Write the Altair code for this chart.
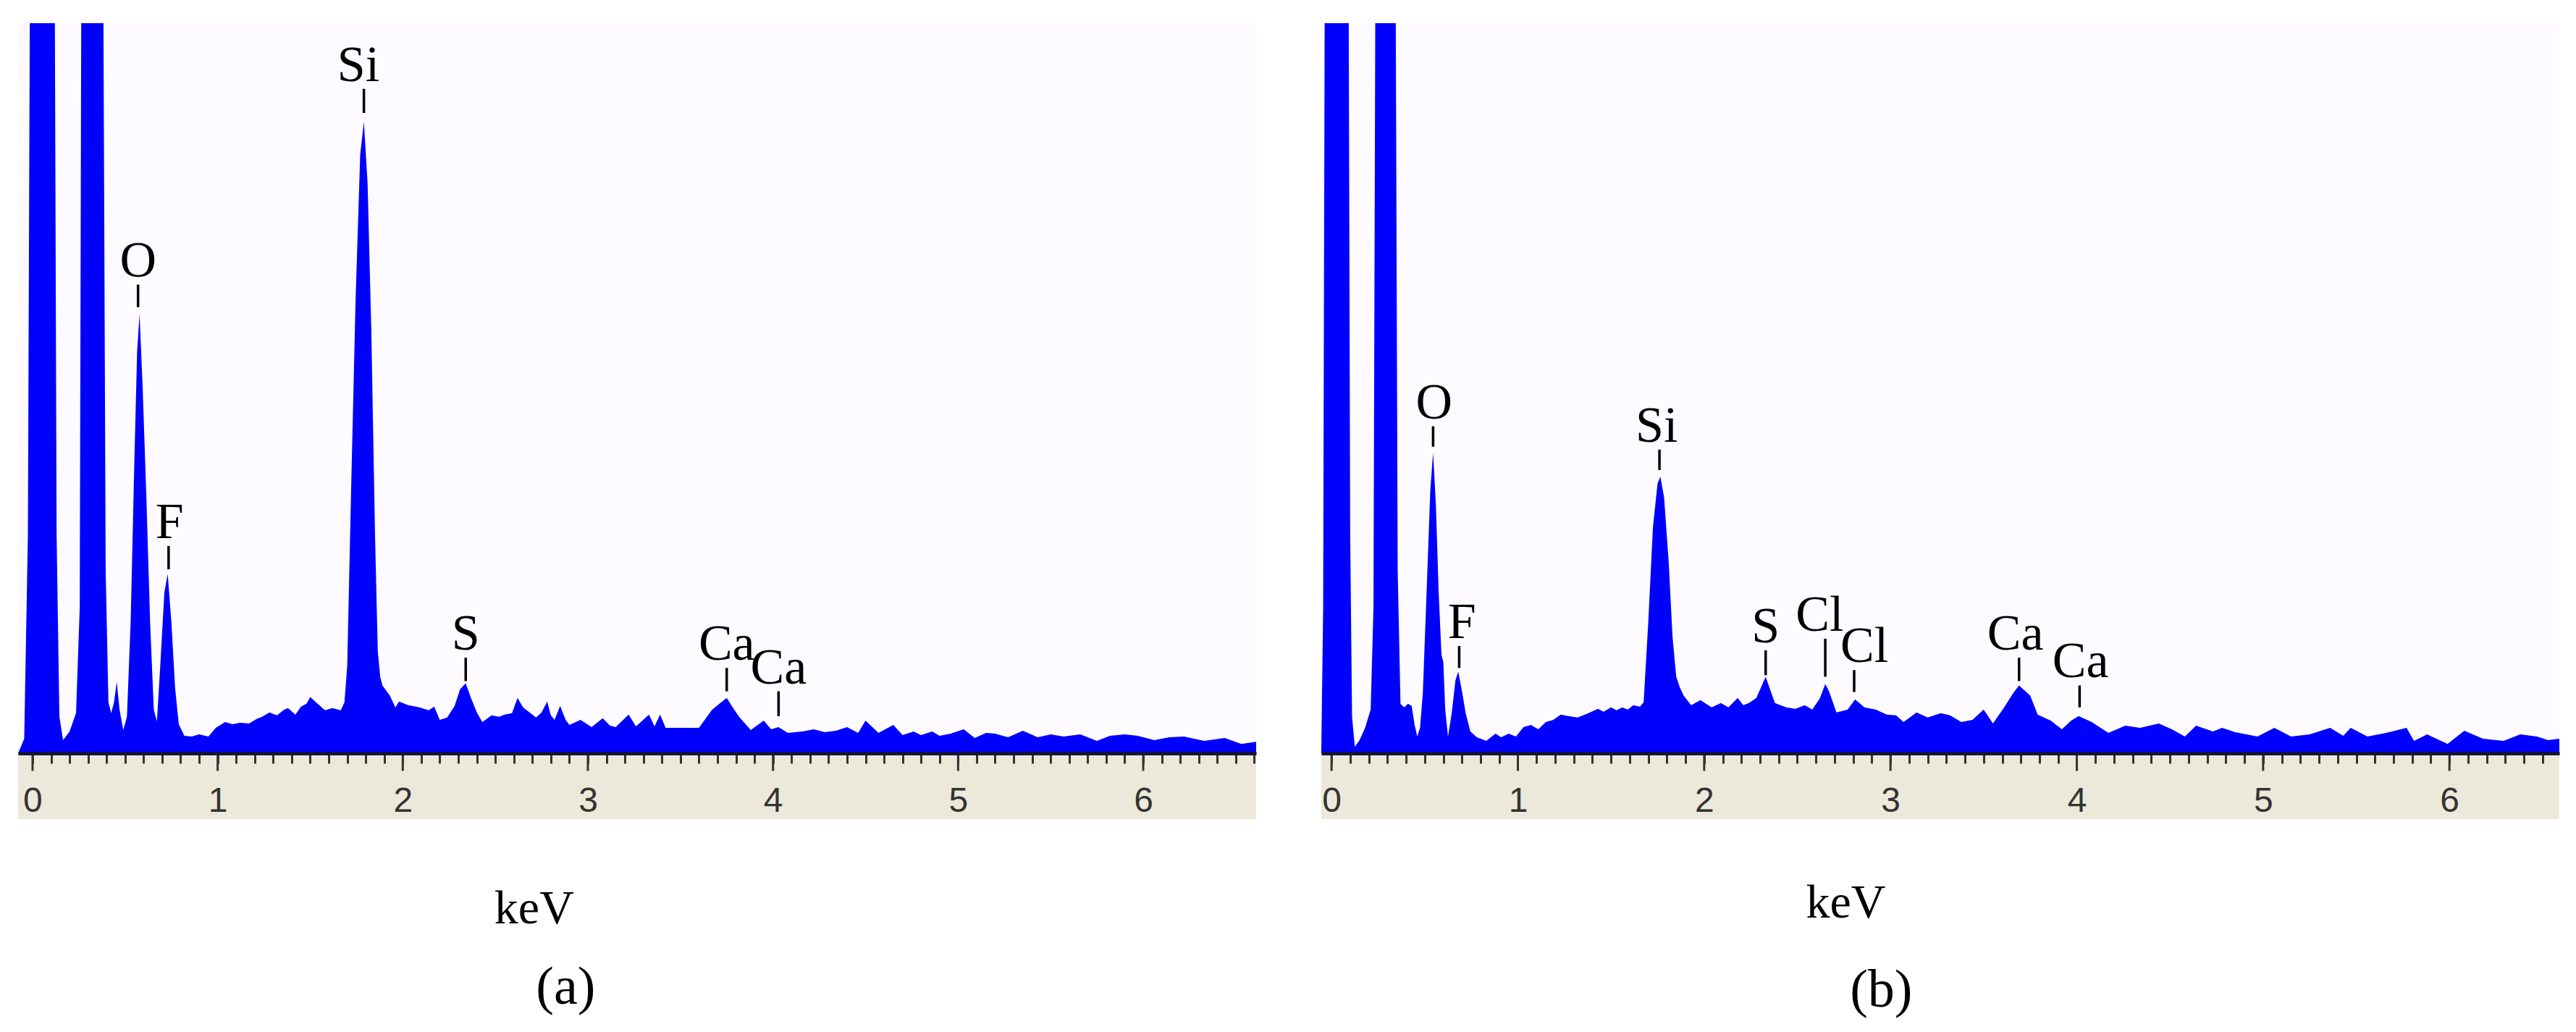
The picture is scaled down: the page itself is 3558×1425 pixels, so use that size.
import altair as alt
import pandas as pd

# ---------------- data ----------------
# Panel (a): energy (keV) and counts (relative units, 100 = top of plot)
kev_a = [-0.078, -0.045, -0.025, -0.012, 0.05, 0.118, 0.13, 0.145, 0.165, 0.20,
         0.235, 0.255, 0.265, 0.33, 0.38, 0.395, 0.41, 0.425, 0.44, 0.455,
         0.47, 0.49, 0.51, 0.53, 0.55, 0.565, 0.578, 0.595, 0.615, 0.635,
         0.655, 0.672, 0.69, 0.712, 0.73, 0.75, 0.77, 0.79, 0.82, 0.86,
         0.90, 0.95, 0.99, 1.04, 1.08, 1.12, 1.17, 1.21, 1.24, 1.28,
         1.32, 1.36, 1.38, 1.42, 1.45, 1.48, 1.50, 1.54, 1.58, 1.62,
         1.665, 1.685, 1.70, 1.72, 1.745, 1.77, 1.79, 1.81, 1.83, 1.85,
         1.865, 1.878, 1.89, 1.93, 1.96, 1.98, 2.03, 2.09, 2.14, 2.17,
         2.20, 2.24, 2.28, 2.31, 2.34, 2.37, 2.40, 2.43, 2.48, 2.52,
         2.55, 2.59, 2.62, 2.65, 2.67, 2.72, 2.75, 2.78, 2.80, 2.82,
         2.85, 2.88, 2.90, 2.96, 3.02, 3.08, 3.12, 3.15, 3.22, 3.26,
         3.33, 3.36, 3.39, 3.42, 3.50, 3.60, 3.67, 3.72, 3.75, 3.79,
         3.82, 3.88, 3.95, 3.99, 4.03, 4.08, 4.16, 4.22, 4.28, 4.34,
         4.40, 4.46, 4.50, 4.57, 4.65, 4.70, 4.76, 4.80, 4.86, 4.90,
         4.96, 5.03, 5.09, 5.15, 5.20, 5.27, 5.35, 5.43, 5.50, 5.57,
         5.66, 5.75, 5.82, 5.90, 5.97, 6.06, 6.14, 6.22, 6.33, 6.44,
         6.53, 6.61]
cts_a = [0, 2, 30, 120, 150, 120, 30, 5, 1.8, 3,
         5.5, 20, 120, 150, 120, 25, 7, 5.5, 7, 9.8,
         6, 3.2, 5, 18, 40, 55, 60.2, 50, 35, 18,
         6, 4.4, 12, 22, 24.6, 18, 9, 4, 2.4, 2.3,
         2.6, 2.3, 3.5, 4.3, 4.0, 4.2, 4.1, 4.7, 5.0, 5.6,
         5.2, 6.0, 6.2, 5.3, 6.4, 6.8, 7.7, 6.8, 5.9, 6.2,
         5.9, 7.0, 12, 35, 62, 82, 86.5, 78, 58, 30,
         14, 10.5, 9.3, 7.9, 6.3, 7.1, 6.6, 6.3, 5.9, 6.4,
         4.6, 4.9, 6.5, 8.8, 9.6, 7.5, 5.6, 4.3, 5.2, 5.0,
         5.3, 5.5, 7.6, 6.3, 5.9, 4.9, 5.6, 7.1, 5.2, 4.6,
         6.5, 4.6, 3.9, 4.6, 3.6, 4.8, 3.8, 3.6, 5.3, 3.7,
         5.3, 3.7, 5.3, 3.5, 3.5, 3.5, 5.95, 7.0, 7.6, 6.0,
         4.9, 3.2, 4.5, 3.3, 3.6, 2.8, 3.0, 3.3, 2.9, 3.1,
         3.6, 2.8, 4.5, 2.8, 3.9, 2.5, 3.0, 2.5, 3.0, 2.4,
         2.7, 3.3, 2.1, 2.8, 2.7, 2.2, 3.1, 2.2, 2.6, 2.3,
         2.6, 1.7, 2.4, 2.6, 2.4, 1.8, 2.2, 2.3, 1.7, 2.1,
         1.3, 1.6]

# Panel (b)
kev_b = [-0.055, -0.045, -0.035, 0.03, 0.09, 0.10, 0.11, 0.125, 0.15, 0.18,
         0.21, 0.225, 0.237, 0.29, 0.342, 0.355, 0.37, 0.39, 0.41, 0.43,
         0.445, 0.46, 0.475, 0.49, 0.51, 0.53, 0.545, 0.56, 0.575, 0.59,
         0.60, 0.61, 0.625, 0.645, 0.665, 0.68, 0.70, 0.72, 0.745, 0.78,
         0.83, 0.88, 0.91, 0.95, 0.99, 1.03, 1.07, 1.11, 1.15, 1.19,
         1.23, 1.27, 1.32, 1.37, 1.43, 1.46, 1.50, 1.53, 1.56, 1.59,
         1.62, 1.655, 1.675, 1.70, 1.725, 1.75, 1.765, 1.785, 1.81, 1.83,
         1.85, 1.87, 1.89, 1.93, 1.98, 2.04, 2.09, 2.13, 2.18, 2.21,
         2.24, 2.28, 2.33, 2.36, 2.38, 2.44, 2.49, 2.54, 2.58, 2.62,
         2.65, 2.67, 2.71, 2.77, 2.81, 2.86, 2.92, 2.98, 3.03, 3.07,
         3.14, 3.20, 3.27, 3.32, 3.38, 3.44, 3.50, 3.55, 3.61, 3.66,
         3.69, 3.75, 3.79, 3.86, 3.92, 3.97, 4.01, 4.08, 4.17, 4.26,
         4.34, 4.44, 4.51, 4.58, 4.64, 4.73, 4.78, 4.85, 4.91, 4.97,
         5.06, 5.15, 5.25, 5.36, 5.43, 5.47, 5.56, 5.66, 5.77, 5.81,
         5.88, 5.99, 6.08, 6.18, 6.29, 6.38, 6.47, 6.53, 6.59]
cts_b = [0.5, 20, 120, 150, 120, 30, 5, 0.9, 1.8, 3.5,
         6, 20, 120, 150, 120, 25, 6.8, 6.3, 6.8, 6.5,
         4.0, 2.3, 3.5, 8.3, 22, 36, 41.2, 34, 22, 13.5,
         12.5, 6, 2.3, 5.5, 10, 11.2, 8.5, 5.5, 3.0, 2.2,
         1.7, 2.7, 2.2, 2.7, 2.3, 3.6, 3.9, 3.3, 4.3, 4.6,
         5.3, 5.1, 4.9, 5.4, 6.1, 5.7, 6.3, 5.9, 6.3, 6.0,
         6.6, 6.4, 7.0, 18, 31, 37, 37.9, 35, 26, 16,
         10.5, 9.0, 7.9, 6.6, 7.3, 6.3, 6.9, 6.3, 7.6, 6.6,
         6.9, 7.6, 10.5, 8.3, 6.9, 6.3, 6.1, 6.6, 6.0, 7.5,
         9.5, 8.5, 5.6, 6.0, 7.4, 6.3, 6.0, 5.3, 5.2, 4.3,
         5.6, 4.9, 5.5, 5.2, 4.3, 4.6, 6.0, 4.1, 6.3, 8.3,
         9.3, 7.9, 5.3, 4.5, 3.3, 4.5, 5.1, 4.3, 2.8, 3.8,
         3.5, 4.1, 3.3, 2.3, 3.8, 3.0, 3.5, 2.9, 2.6, 2.3,
         3.5, 2.3, 2.6, 3.5, 2.4, 3.5, 2.3, 2.8, 3.5, 1.7,
         2.6, 1.3, 3.1, 2.0, 1.7, 2.6, 2.3, 1.8, 2.0]

# Peak labels: element, leader-line energy, text energy, leader bottom / top
names_a = ["O", "F", "Si", "S", "Ca", "Ca"]
lab_kev_a = [0.57, 0.735, 1.79, 2.34, 3.75, 4.03]
txt_kev_a = [0.57, 0.74, 1.76, 2.34, 3.75, 4.03]
lab_lo_a = [61.1, 25.2, 87.7, 9.9, 8.5, 5.1]
lab_hi_a = [64.2, 28.4, 91.0, 13.1, 11.7, 8.5]

names_b = ["O", "F", "Si", "S", "Cl", "Cl", "Ca", "Ca"]
lab_kev_b = [0.545, 0.685, 1.76, 2.33, 2.65, 2.805, 3.69, 4.015]
txt_kev_b = [0.55, 0.70, 1.745, 2.33, 2.62, 2.86, 3.67, 4.02]
lab_lo_b = [42.0, 11.7, 38.8, 10.7, 10.5, 8.4, 9.9, 6.3]
lab_hi_b = [44.8, 14.7, 41.6, 14.1, 15.7, 11.4, 13.1, 9.3]

# x-range shown in each panel (keV)
xdom_a = [-0.078, 6.61]
xdom_b = [-0.055, 6.59]

# axis tick values
minor_ticks = [round(i * 0.1, 1) for i in range(67)]
major_ticks = [0, 1, 2, 3, 4, 5, 6]

# captions under each panel: text, x (keV), y (units)
cap_text_a = ["keV", "(a)"]
cap_x_a = [2.71, 2.88]
cap_y_a = [-21.3, -32.1]
cap_text_b = ["keV", "(b)"]
cap_x_b = [2.76, 2.95]
cap_y_b = [-20.5, -32.5]

# ---------------- layout constants ----------------
Y_DOMAIN = [-9, 100]
PLOT_W = 1710
PLOT_H = 1099
AXIS_OFFSET = -91   # moves the axis up from the band bottom to the baseline (y = 0)
BLUE = "#0000FF"
BEIGE = "#ECE9DA"


def make_axis():
    return alt.Axis(
        values=minor_ticks, orient="bottom", offset=AXIS_OFFSET,
        tickSize=14, tickWidth=3, tickColor="#333333",
        domainColor="#14143a", domainWidth=5,
        labelExpr="abs(datum.value - round(datum.value)) < 0.001 ? format(datum.value, 'd') : ''",
        labelFont="Liberation Sans", labelFontSize=48, labelColor="#333333",
        labelPadding=28, labelOverlap=False, labelFlush=False, labelBound=False,
        grid=False, title=None, zindex=1,
    )


def panel(kev, cts, names, lkev, tkev, llo, lhi, xdom, ctext, cx, cy):
    xs = alt.Scale(domain=xdom, nice=False, zero=False)
    ys = alt.Scale(domain=Y_DOMAIN, nice=False, zero=False)

    spec = pd.DataFrame({"keV": kev, "counts": cts})
    band = pd.DataFrame({"x0": [xdom[0]], "x1": [xdom[1]],
                         "y0": [Y_DOMAIN[0]], "y1": [0]})
    majors = pd.DataFrame({"t": major_ticks, "lo": [0] * len(major_ticks),
                           "hi": [-2.4] * len(major_ticks)})
    labs = pd.DataFrame({"name": names, "x": lkev, "tx": tkev, "lo": llo, "hi": lhi})
    caps = pd.DataFrame({"text": ctext, "x": cx, "y": cy})

    yenc = lambda f: alt.Y(f, scale=ys, axis=None)
    xenc = lambda f: alt.X(f, scale=xs, axis=make_axis())

    band_l = alt.Chart(band).mark_rect(color=BEIGE).encode(
        x=xenc("x0:Q"), x2="x1:Q", y=yenc("y0:Q"), y2="y1:Q",
    )
    area_l = alt.Chart(spec).mark_area(color=BLUE, clip=True, interpolate="linear").encode(
        x=xenc("keV:Q"), y=yenc("counts:Q"), y2=alt.datum(0),
    )
    major_l = alt.Chart(majors).mark_rule(color="#333333", strokeWidth=3).encode(
        x=xenc("t:Q"), y=yenc("lo:Q"), y2="hi:Q",
    )
    lead_l = alt.Chart(labs).mark_rule(color="black", strokeWidth=3.5).encode(
        x=xenc("x:Q"), y=yenc("lo:Q"), y2="hi:Q",
    )
    text_l = alt.Chart(labs).mark_text(
        font="Liberation Serif", fontSize=70, color="black",
        baseline="alphabetic", align="center", dy=-11,
    ).encode(x=xenc("tx:Q"), y=yenc("hi:Q"), text="name:N")
    keV_l = alt.Chart(caps.iloc[[0]]).mark_text(
        font="Liberation Serif", fontSize=66, color="black",
        baseline="middle", align="center",
    ).encode(x=xenc("x:Q"), y=yenc("y:Q"), text="text:N")
    tag_l = alt.Chart(caps.iloc[[1]]).mark_text(
        font="Liberation Serif", fontSize=74, color="black",
        baseline="middle", align="center",
    ).encode(x=xenc("x:Q"), y=yenc("y:Q"), text="text:N")
    return alt.layer(band_l, area_l, major_l, lead_l, text_l, keV_l, tag_l).properties(
        width=PLOT_W, height=PLOT_H
    )


pa = panel(kev_a, cts_a, names_a, lab_kev_a, txt_kev_a, lab_lo_a, lab_hi_a, xdom_a,
           cap_text_a, cap_x_a, cap_y_a)
pb = panel(kev_b, cts_b, names_b, lab_kev_b, txt_kev_b, lab_lo_b, lab_hi_b, xdom_b,
           cap_text_b, cap_x_b, cap_y_b)

chart = alt.hconcat(pa, pb, spacing=90).properties(
    padding={"left": 17, "top": 24, "right": 5, "bottom": 5},
    background="white",
).configure_view(stroke=None, fill="#FDFBFF")

chart.save("out.html", embed_options={"renderer": "svg", "actions": False})
